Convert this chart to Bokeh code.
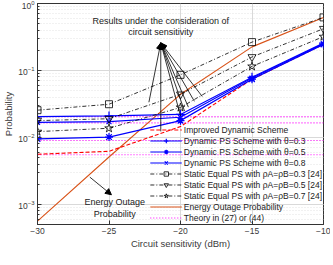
from bokeh.plotting import figure
from bokeh.embed import file_html
from bokeh.resources import INLINE
from bokeh.models import (Legend, LegendItem, Arrow, NormalHead, Label,
                          FixedTicker, Range1d)

# ---------------- data ----------------
sens = [-30, -25, -20, -15, -10]
improved = [0.0056, 0.0062, 0.0145, 0.074, 0.245]
dyn_03 = [0.0204, 0.0209, 0.022, 0.079, 0.256]
dyn_05 = [0.0095, 0.0101, 0.0178, 0.074, 0.245]
dyn_08 = [0.0168, 0.0172, 0.020, 0.077, 0.25]
static_03 = [0.0255, 0.0313, 0.086, 0.265, 0.62]
static_05 = [0.0178, 0.019, 0.044, 0.159, 0.42]
static_07 = [0.0122, 0.0137, 0.028, 0.115, 0.32]
energy = [5.6e-4, 0.0051, 0.044, 0.225, 0.62]
theory_levels = [0.0204, 0.0165, 0.0090, 0.0055]
x_ticks = [-30, -25, -20, -15, -10]

labels = ["Improved Dynamic Scheme",
          "Dynamic PS Scheme with \u03b8=0.3",
          "Dynamic PS Scheme with \u03b8=0.5",
          "Dynamic PS Scheme with \u03b8=0.8",
          "Static Equal PS with \u03c1A=\u03c1B=0.3 [24]",
          "Static Equal PS with \u03c1A=\u03c1B=0.5 [24]",
          "Static Equal PS with \u03c1A=\u03c1B=0.7 [24]",
          "Energy Outage Probability",
          "Theory in (27) or (44)"]

FONT = "Liberation Sans"
TXT = "#3a3a3a"

p = figure(y_axis_type="log",
           x_range=Range1d(-30, -10), y_range=Range1d(5e-4, 1),
           output_backend="svg", toolbar_location=None,
           min_border_left=0, min_border_right=7, min_border_top=3,
           min_border_bottom=0)
p.frame_width = 286
p.frame_height = 221

BLUE = "#0000ff"
BLACK = "#000000"

# theory lines
th = p.multi_line(xs=[[sens[0], sens[-1]] for _ in theory_levels],
                  ys=[[v, v] for v in theory_levels],
                  line_color="#ff00ff", line_dash="1 2", line_width=1.1)
# energy outage
en = p.line(sens, energy, line_color="#D95319", line_width=1.1)

# improved
r_imp = p.line(sens, improved, line_color="#ff0000", line_dash="4 2", line_width=1.1)

def series(vals, color, marker, dash, lw, size, fill=None):
    ln = p.line(sens, vals, line_color=color, line_dash=dash, line_width=lw)
    sc = p.scatter(sens, vals, marker=marker, size=size, line_color=color,
                   fill_color=fill, line_width=lw)
    return [ln, sc]

r03 = series(dyn_03, BLUE, "cross", "solid", 1.2, 9)
r05 = series(dyn_05, BLUE, "asterisk", "solid", 1.2, 8)
r08 = series(dyn_08, BLUE, "x", "solid", 1.2, 7)
s03 = series(static_03, BLACK, "square", "4 2 1 2", 0.8, 7)
s05 = series(static_05, BLACK, "inverted_triangle", "4 2 1 2", 0.8, 8)
s07 = series(static_07, BLACK, "star", "4 2 1 2", 0.8, 9)

legend = Legend(items=[
    LegendItem(label=labels[0], renderers=[r_imp]),
    LegendItem(label=labels[1], renderers=r03),
    LegendItem(label=labels[2], renderers=r05),
    LegendItem(label=labels[3], renderers=r08),
    LegendItem(label=labels[4], renderers=s03),
    LegendItem(label=labels[5], renderers=s05),
    LegendItem(label=labels[6], renderers=s07),
    LegendItem(label=labels[7], renderers=[en]),
    LegendItem(label=labels[8], renderers=[th]),
], location="bottom_right")
legend.margin = 0
legend.padding = 1
legend.spacing = 0
legend.glyph_width = 32
legend.glyph_height = 11
legend.label_height = 11
legend.label_standoff = 2
legend.label_text_font = FONT
legend.label_text_font_size = "8.5px"
legend.label_text_color = "#222222"
legend.background_fill_alpha = 0
legend.border_line_alpha = 0
p.add_layout(legend)

# annotations: arrows to the curves
apex = (-21.38, 0.258)
targets = [(-22.21, 0.0335), (-21.38, 0.0123), (-20.0, 0.0210),
           (-19.72, 0.0248), (-19.45, 0.0283), (-19.03, 0.0346),
           (-18.48, 0.0409)]
for tx, ty in targets:
    p.add_layout(Arrow(end=NormalHead(size=6, fill_color=BLACK, line_color=BLACK),
                       x_start=tx, y_start=ty, x_end=apex[0], y_end=apex[1],
                       line_width=0.8, line_color=BLACK))
p.add_layout(Arrow(end=NormalHead(size=6, fill_color=BLACK, line_color=BLACK),
                   x_start=-26.34, y_start=0.00255, x_end=-24.83, y_end=0.00139,
                   line_width=0.8, line_color=BLACK))

for (tx, ty, t) in [(-21.38, 0.557, "Results under the consideration of"),
                    (-21.38, 0.372, "circuit sensitivity"),
                    (-24.6, 0.00107, "Energy Outage"),
                    (-24.6, 0.00071, "Probability")]:
    p.add_layout(Label(x=tx, y=ty, text=t, text_align="center",
                       text_baseline="middle", text_font=FONT,
                       text_font_size="9px", text_color="#222222"))

# axes styling
p.xaxis.ticker = FixedTicker(ticks=x_ticks)
p.xaxis.axis_label = "Circuit sensitivity (dBm)"
p.yaxis.axis_label = "Probability"
for ax in (p.xaxis[0], p.yaxis[0]):
    ax.axis_label_text_font = FONT
    ax.axis_label_text_font_style = "normal"
    ax.axis_label_text_font_size = "9.5px"
    ax.axis_label_text_color = TXT
    ax.major_label_text_font = FONT
    ax.major_label_text_font_size = "8.5px"
    ax.major_label_text_color = TXT
    ax.major_tick_in = 4
    ax.major_tick_out = 0
    ax.minor_tick_in = 2
    ax.minor_tick_out = 0
    ax.axis_line_color = "#333333"
    ax.major_tick_line_color = "#333333"
    ax.minor_tick_line_color = "#333333"
    ax.axis_label_standoff = 1
    ax.major_label_standoff = 3

p.outline_line_color = "#333333"
p.xgrid.grid_line_color = "#d9d9d9"
p.ygrid.grid_line_color = "#d9d9d9"
p.ygrid.minor_grid_line_color = "#e3e3e3"
p.ygrid.minor_grid_line_dash = "1 2"
p.background_fill_color = "white"

open("out.html", "w").write(file_html(p, INLINE))
